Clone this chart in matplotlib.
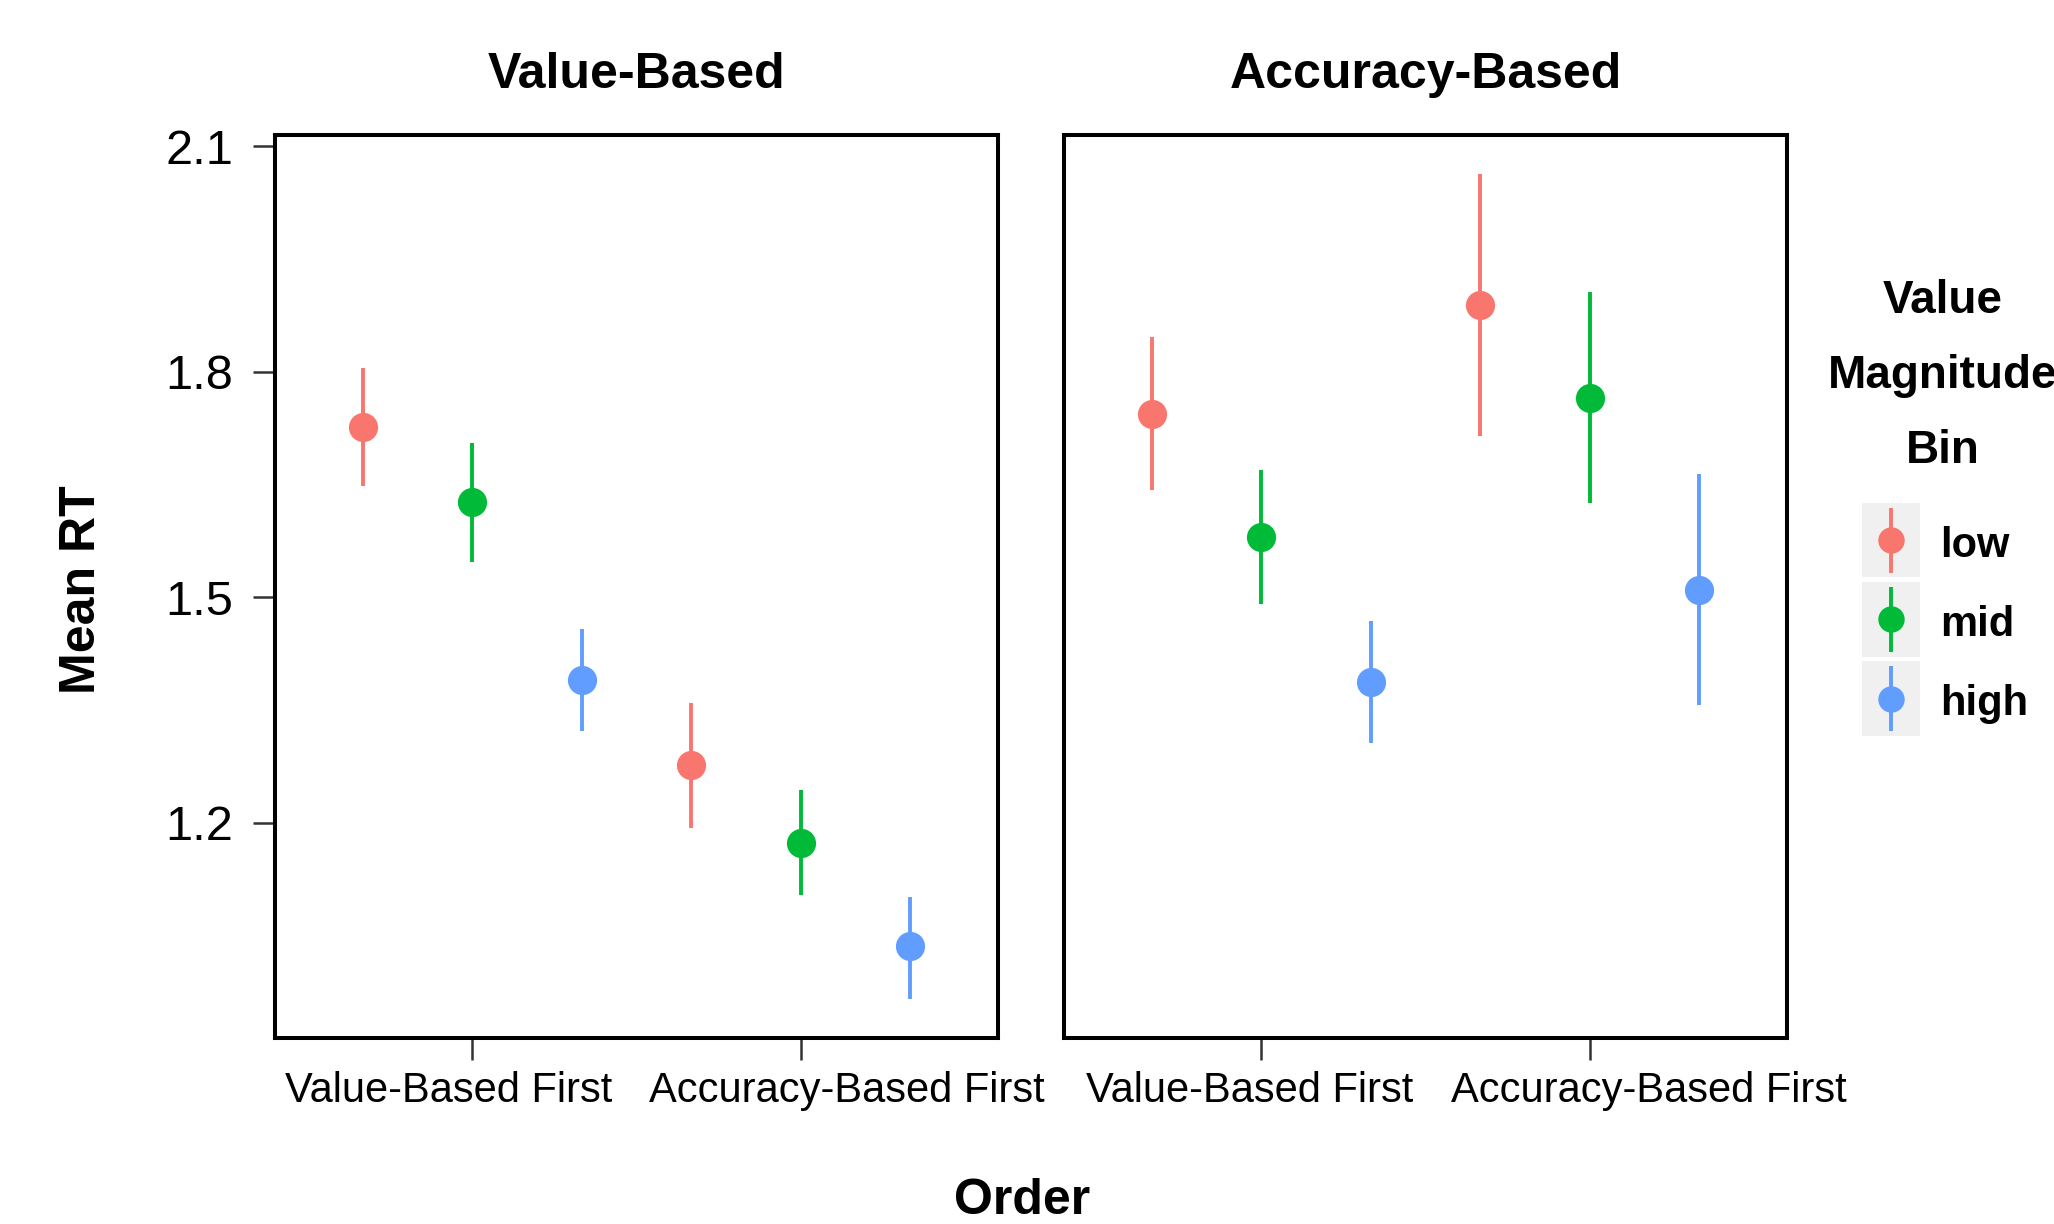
import matplotlib
matplotlib.use("Agg")
import matplotlib.pyplot as plt
import matplotlib.transforms as mtransforms
from matplotlib.patches import Rectangle
import numpy as np

plt.rcParams['font.family'] = ['Liberation Sans', 'DejaVu Sans']

# data
panels = ["Value-Based", "Accuracy-Based"]
orders = ["Value-Based First", "Accuracy-Based First"]
bins = ["low", "mid", "high"]
bin_colors = ["#F8766D", "#00BA38", "#619CFF"]

# rows = bins (low, mid, high), columns = orders
vb_mean = [[1.727, 1.277], [1.627, 1.174], [1.390, 1.036]]
vb_lower = [[1.648, 1.193], [1.547, 1.104], [1.322, 0.966]]
vb_upper = [[1.805, 1.359], [1.706, 1.244], [1.458, 1.102]]

ab_mean = [[1.744, 1.889], [1.580, 1.765], [1.388, 1.510]]
ab_lower = [[1.643, 1.715], [1.491, 1.626], [1.306, 1.357]]
ab_upper = [[1.847, 2.063], [1.669, 1.906], [1.469, 1.664]]

y_ticks = [1.2, 1.5, 1.8, 2.1]

W, H = 2054, 1224
fig = plt.figure(figsize=(W / 100, H / 100), dpi=100)


def px_axes(left, top, right, bottom):
    return fig.add_axes([left / W, 1 - bottom / H, (right - left) / W, (bottom - top) / H])


ax1 = px_axes(275, 135, 998, 1038)
ax2 = px_axes(1064, 135, 1787, 1038)

dodge = [-1 / 3, 0, 1 / 3]
x = np.arange(1, len(orders) + 1)

for ax, title, mean, lower, upper, shifts in [
    (ax1, panels[0], vb_mean, vb_lower, vb_upper, [-24, 46]),
    (ax2, panels[1], ab_mean, ab_lower, ab_upper, [-12, 59]),
]:
    for i, b in enumerate(bins):
        m = np.array(mean[i])
        lo = m - np.array(lower[i])
        hi = np.array(upper[i]) - m
        ax.errorbar(x + dodge[i], m, yerr=[lo, hi], fmt='o', color=bin_colors[i],
                    markersize=21, elinewidth=2.8, capsize=0, markeredgewidth=0)

    ax.set_xlim(0.4, 2.6)
    ax.set_ylim(0.914, 2.115)
    ax.set_yticks(y_ticks)
    ax.set_yticklabels([f"{t:.1f}" for t in y_ticks])
    ax.set_xticks(x)
    ax.set_xticklabels(orders)
    ax.set_title(title, fontsize=36, fontweight='bold', pad=34)

    for s in ax.spines.values():
        s.set_linewidth(2.9)
        s.set_color('black')
    ax.tick_params(axis='both', length=16, width=1.8, color='#333333')
    ax.tick_params(axis='x', labelsize=30, pad=8, labelcolor='#000000')
    ax.tick_params(axis='y', labelsize=35, pad=14, labelcolor='#000000')

    # the tick labels in the reference sit a bit off their ticks
    for lab, dx in zip(ax.get_xticklabels(), shifts):
        lab.set_transform(lab.get_transform() +
                          mtransforms.ScaledTranslation(dx / 100, 0, fig.dpi_scale_trans))

ax2.tick_params(axis='y', left=False, labelleft=False)

fig.text(82 / W, 1 - 590 / H, "Mean RT", rotation=90, fontsize=36, fontweight='bold',
         ha='center', va='center')
fig.text(1022 / W, 1 - 1214 / H, "Order", fontsize=36, fontweight='bold',
         ha='center', va='baseline')

# legend
fig.text(1943 / W, 1 - 376 / H, "Value\nMagnitude\nBin", fontsize=33, fontweight='bold',
         ha='center', va='center', multialignment='center', linespacing=1.9)

leg = px_axes(1862, 502, 1920, 740)
leg.set_xlim(0, 1)
leg.set_ylim(len(bins), 0)
leg.axis('off')
for i, b in enumerate(bins):
    leg.add_patch(Rectangle((0, i + 0.01), 1, 0.94, facecolor='#F0F0F0', edgecolor='none'))
    leg.errorbar([0.5], [i + 0.48], yerr=[[0.41], [0.41]], fmt='o', color=bin_colors[i],
                 markersize=19, elinewidth=2.8, capsize=0, markeredgewidth=0)
    leg.text(1.34, i + 0.55, b, fontsize=30, fontweight='bold', ha='left', va='center',
             clip_on=False)

fig.savefig("out.png", dpi=100)
